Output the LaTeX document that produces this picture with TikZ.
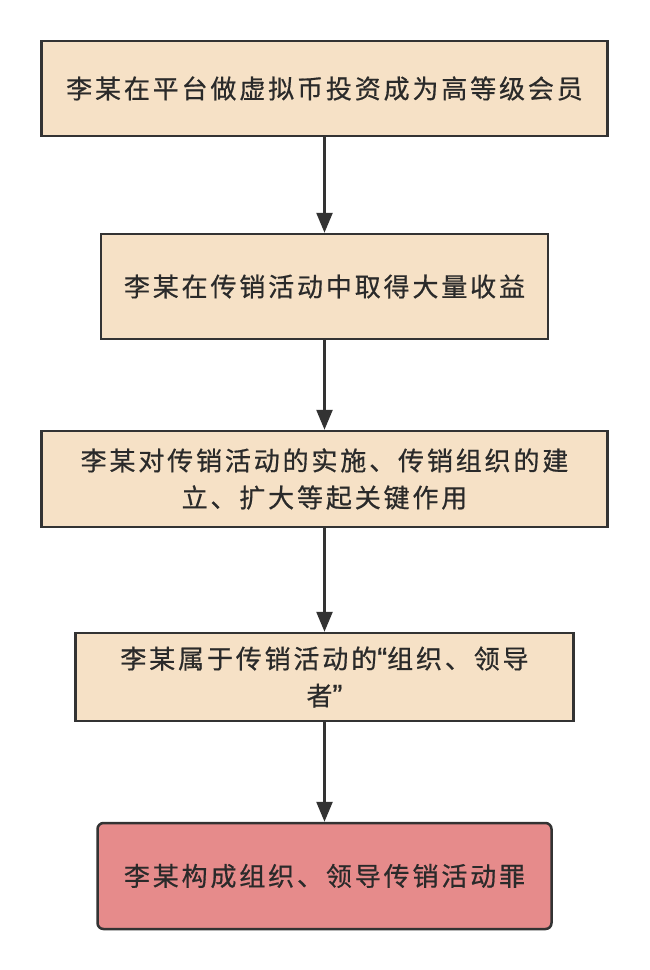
\documentclass[tikz,border=0pt]{standalone}
\usepackage{fontspec}
\setmainfont{Noto Sans CJK SC}[LetterSpace=11,FakeBold=0.6]
\newfontfamily\quotefont{Liberation Sans}[Scale=1.15,FakeBold=0.6]
\usetikzlibrary{arrows.meta}
\definecolor{boxfill}{HTML}{F6E1C6}
\definecolor{redfill}{HTML}{E68B8B}
\definecolor{edge}{HTML}{333333}
\definecolor{ink}{HTML}{2A2A2A}
\begin{document}
\begin{tikzpicture}[x=1pt,y=-1pt,
  box/.style={draw=edge, line width=2.5pt, fill=boxfill, inner sep=0pt, align=center,
    font=\fontsize{26}{37}\selectfont, text=ink},
  endbox/.style={box, fill=redfill, rounded corners=6pt},
  arr/.style={draw=edge, line width=2.5pt, -{Triangle[width=16pt,length=20pt]}}]
\fill[white] (0,0) rectangle (650,970);
\useasboundingbox (0,0) rectangle (650,970);
\node[box, minimum width=566pt, minimum height=95pt] (b1) at (324.5,88.5)
  {李某在平台做虚拟币投资成为高等级会员};
\node[box, minimum width=447pt, minimum height=105pt] (b2) at (324.5,286.5)
  {李某在传销活动中取得大量收益};
\node[box, minimum width=566pt, minimum height=96pt] (b3) at (324.5,479)
  {李某对传销活动的实施、传销组织的建\\立、扩大等起关键作用};
\node[box, minimum width=498pt, minimum height=88pt] (b4) at (324.5,677)
  {李某属于传销活动的{\quotefont “}组织、领导\\者{\quotefont ”}};
\node[endbox, minimum width=454pt, minimum height=106pt] (b5) at (324.5,876)
  {李某构成组织、领导传销活动罪};
\draw[arr] (b1.south) -- (b2.north);
\draw[arr] (b2.south) -- (b3.north);
\draw[arr] (b3.south) -- (b4.north);
\draw[arr] (b4.south) -- (b5.north);
\end{tikzpicture}
\end{document}
